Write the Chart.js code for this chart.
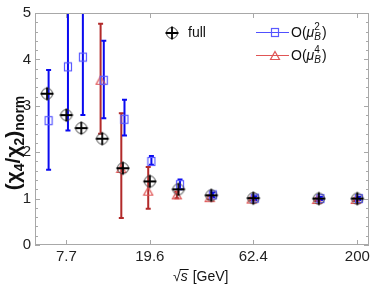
<!DOCTYPE html>
<html>
<head>
<meta charset="utf-8">
<script src="https://cdn.jsdelivr.net/npm/chart.js@4.4.0/dist/chart.umd.min.js"></script>
<style>
  html, body { margin: 0; padding: 0; background: #fff; }
  #wrap { width: 374px; height: 288px; }
</style>
</head>
<body>
<div id="wrap"><canvas id="grafica" width="374" height="288"></canvas></div>
<script>
// =================== Datos ===================

// Energías de colisión sqrt(s) en GeV
const energias = [6.2, 7.7, 9.1, 11.5, 14.5, 19.6, 27, 39, 62.4, 130, 200];

// Serie "full"
const full = [3.26, 2.80, 2.52, 2.29, 1.655, 1.37, 1.20, 1.07, 1.01, 1.00, 1.00];

// Serie O(muB^2) con sus barras de error (límite inferior / superior)
const muB2 = [2.68, 3.84, 4.05, 3.55, 2.71, 1.80, 1.30, 1.08, 1.01, 1.00, 1.00];
const muB2Lo = [1.62, 2.47, 2.80, 2.73, 2.36, 1.73, 1.20, 1.03, 0.97, 0.97, 0.97];
const muB2Hi = [3.77, 5.60, 5.60, 4.40, 3.13, 1.92, 1.41, 1.13, 1.05, 1.04, 1.04];

// Serie O(muB^4)
const muB4 = [null, null, null, 3.55, 1.65, 1.16, 1.08, 1.02, 0.99, 0.98, 0.98];
const muB4Lo = [null, null, null, 2.40, 0.58, 0.78, 1.01, 0.98, 0.96, 0.95, 0.95];
const muB4Hi = [null, null, null, 4.77, 2.84, 1.68, 1.15, 1.06, 1.02, 1.01, 1.01];

// Marcas de los ejes
const ticksX = [7.7, 19.6, 62.4, 200];
const ticksY = [0, 1, 2, 3, 4, 5];

// Pequeño desplazamiento horizontal de las series para que no se encimen
const DESPLAZ = 1.018;

const AZUL = "#0a0af0";
const ROJO = "#b22a2a";
const GRIS = "#a8a8a8";
const FUENTE = "'Liberation Sans', Arial, sans-serif";

// =================== Marcadores ===================

function marcadorFull() {
  const c = document.createElement("canvas");
  c.width = 16; c.height = 16;
  const g = c.getContext("2d");
  g.strokeStyle = "#444";
  g.lineWidth = 1;
  g.beginPath(); g.arc(8, 8, 5.5, 0, Math.PI * 2); g.stroke();
  g.strokeStyle = "#000";
  g.lineWidth = 1.8;
  g.beginPath();
  g.moveTo(1.5, 8); g.lineTo(14.5, 8);
  g.moveTo(8, 1.5); g.lineTo(8, 14.5);
  g.stroke();
  return c;
}

function marcadorCuadro() {
  const c = document.createElement("canvas");
  c.width = 10; c.height = 11;
  const g = c.getContext("2d");
  g.strokeStyle = "#5a5aff";
  g.lineWidth = 1.2;
  g.strokeRect(1.5, 1.5, 7, 8);
  return c;
}

function marcadorTriangulo() {
  const c = document.createElement("canvas");
  c.width = 12; c.height = 11;
  const g = c.getContext("2d");
  g.strokeStyle = "#e05555";
  g.lineWidth = 1.2;
  g.beginPath();
  g.moveTo(6, 1.5); g.lineTo(10.5, 9.5); g.lineTo(1.5, 9.5); g.closePath();
  g.stroke();
  return c;
}

const imgFull = marcadorFull();
const imgCuadro = marcadorCuadro();
const imgTri = marcadorTriangulo();

// =================== Plugin: marco, barras de error, títulos, leyenda ===================

function barras(chart, xs, lo, hi, color) {
  const ctx = chart.ctx;
  const sx = chart.scales.x, sy = chart.scales.y;
  ctx.save();
  ctx.strokeStyle = color;
  ctx.lineWidth = 2;
  xs.forEach((x, i) => {
    if (lo[i] == null) return;
    const px = sx.getPixelForValue(x);
    const y1 = sy.getPixelForValue(lo[i]);
    const y2 = sy.getPixelForValue(hi[i]);
    ctx.beginPath();
    ctx.moveTo(px, y1); ctx.lineTo(px, y2);
    ctx.moveTo(px - 2.5, y1); ctx.lineTo(px + 2.5, y1);
    ctx.moveTo(px - 2.5, y2); ctx.lineTo(px + 2.5, y2);
    ctx.stroke();
  });
  ctx.restore();
}

function textoPartes(ctx, partes, x, y) {
  // dibuja texto compuesto (subíndices / superíndices) de izquierda a derecha
  let cx = x;
  partes.forEach(p => {
    ctx.font = p.f;
    ctx.fillText(p.t, cx, y + (p.dy || 0));
    cx += ctx.measureText(p.t).width + (p.sp || 0);
  });
  return cx - x;
}

function anchoPartes(ctx, partes) {
  let w = 0;
  partes.forEach(p => { ctx.font = p.f; w += ctx.measureText(p.t).width + (p.sp || 0); });
  return w;
}

const pluginGrafica = {
  id: "pluginGrafica",
  beforeDatasetsDraw(chart) {
    const { ctx, chartArea: a } = chart;

    ctx.save();
    ctx.beginPath();
    ctx.rect(a.left, a.top, a.right - a.left, a.bottom - a.top);
    ctx.clip();
    barras(chart, energias.map(e => e / DESPLAZ), muB4Lo, muB4Hi, ROJO);
    barras(chart, energias.map(e => e * DESPLAZ), muB2Lo, muB2Hi, AZUL);
    ctx.restore();
  },
  afterDraw(chart) {
    const { ctx, chartArea: a } = chart;
    const sx = chart.scales.x, sy = chart.scales.y;

    // marco
    ctx.save();
    ctx.strokeStyle = GRIS;
    ctx.lineWidth = 1;
    ctx.strokeRect(a.left + 0.5, a.top + 0.5, a.right - a.left - 1, a.bottom - a.top - 1);

    // marcas del eje Y (hacia adentro), mayores y menores
    ctx.beginPath();
    for (let v = 0; v <= 5.001; v += 0.2) {
      const py = Math.round(sy.getPixelForValue(v)) + 0.5;
      const mayor = Math.abs(v - Math.round(v)) < 1e-6;
      const l = mayor ? 5 : 3;
      ctx.moveTo(a.left, py); ctx.lineTo(a.left + l, py);
      ctx.moveTo(a.right, py); ctx.lineTo(a.right - l, py);
    }
    // marcas del eje X
    ticksX.forEach(t => {
      const px = Math.round(sx.getPixelForValue(t)) + 0.5;
      ctx.moveTo(px, a.bottom); ctx.lineTo(px, a.bottom - 5);
      ctx.moveTo(px, a.top); ctx.lineTo(px, a.top + 5);
    });
    ctx.stroke();
    ctx.restore();

    // título del eje Y: (χ4/χ2)norm
    ctx.save();
    ctx.fillStyle = "#111";
    ctx.textBaseline = "alphabetic";
    const fb = "bold 21px " + FUENTE;
    const fs = "bold 14px " + FUENTE;
    const tituloY = [
      { t: "(χ", f: fb }, { t: "4", f: fs, dy: 4 },
      { t: "/χ", f: fb }, { t: "2", f: fs, dy: 4 },
      { t: ")", f: fb }, { t: "norm", f: fs, dy: 4 }
    ];
    const wY = anchoPartes(ctx, tituloY);
    ctx.translate(20, 143);
    ctx.rotate(-Math.PI / 2);
    textoPartes(ctx, tituloY, -wY / 2, 0);
    ctx.restore();

    // título del eje X: √s [GeV]
    ctx.save();
    ctx.fillStyle = "#111";
    ctx.textBaseline = "alphabetic";
    const f14 = "14px " + FUENTE;
    const yb = 281;
    ctx.font = f14;
    const x0 = 173;
    ctx.fillText("√", x0, yb);
    const wr = ctx.measureText("√").width;
    ctx.font = "italic 14px " + FUENTE;
    ctx.fillText("s", x0 + wr, yb);
    const ws = ctx.measureText("s").width;
    ctx.strokeStyle = "#111";
    ctx.lineWidth = 1;
    ctx.beginPath();
    ctx.moveTo(x0 + wr - 1, yb - 11.5); ctx.lineTo(x0 + wr + ws + 1, yb - 11.5);
    ctx.stroke();
    ctx.font = f14;
    ctx.fillText("[GeV]", x0 + wr + ws + 5, yb);
    ctx.restore();

    // leyenda
    ctx.save();
    ctx.fillStyle = "#111";
    ctx.textBaseline = "middle";
    ctx.drawImage(imgFull, 172 - 8, 33 - 8);
    ctx.font = f14;
    ctx.fillText("full", 188, 33);

    const filas = [
      { y: 32, color: "#5050ff", img: imgCuadro, exp: "2" },
      { y: 55, color: "#e05555", img: imgTri, exp: "4" }
    ];
    filas.forEach(r => {
      ctx.strokeStyle = r.color;
      ctx.lineWidth = 1;
      ctx.beginPath();
      ctx.moveTo(256, r.y + 0.5); ctx.lineTo(289, r.y + 0.5);
      ctx.stroke();
      ctx.drawImage(r.img, 275 - r.img.width / 2, r.y - r.img.height / 2 + 0.5);
      ctx.textBaseline = "alphabetic";
      const yb2 = r.y + 5;
      ctx.font = f14;
      ctx.fillText("O(", 291, yb2);
      let cx = 291 + ctx.measureText("O(").width;
      ctx.font = "italic 14px " + FUENTE;
      ctx.fillText("μ", cx, yb2);
      cx += ctx.measureText("μ").width;
      ctx.font = "10px " + FUENTE;
      ctx.fillText(r.exp, cx, yb2 - 7);
      ctx.font = "italic 10px " + FUENTE;
      ctx.fillText("B", cx, yb2 + 3);
      cx += ctx.measureText("B").width + 1;
      ctx.font = f14;
      ctx.fillText(")", cx, yb2);
      ctx.textBaseline = "middle";
    });
    ctx.restore();
  }
};

// =================== Gráfica ===================

const ctx = document.getElementById("grafica").getContext("2d");

const chart = new Chart(ctx, {
  type: "scatter",
  data: {
    datasets: [
      {
        label: "full",
        data: energias.map((e, i) => ({ x: e, y: full[i] })),
        pointStyle: imgFull,
        order: 0
      },
      {
        label: "O(μB2)",
        data: energias.map((e, i) => ({ x: e * DESPLAZ, y: muB2[i] })),
        pointStyle: imgCuadro,
        order: 1
      },
      {
        label: "O(μB4)",
        data: energias.map((e, i) => ({ x: e / DESPLAZ, y: muB4[i] })).filter(p => p.y != null),
        pointStyle: imgTri,
        order: 2
      }
    ]
  },
  options: {
    responsive: false,
    animation: false,
    devicePixelRatio: 1,
    layout: { padding: { top: 8, right: 1, left: 0, bottom: 0 } },
    plugins: {
      legend: { display: false },
      tooltip: { enabled: false }
    },
    scales: {
      x: {
        type: "logarithmic",
        min: 5.42,
        max: 228,
        grid: { display: false, drawTicks: false },
        border: { display: false },
        afterBuildTicks: (axis) => { axis.ticks = ticksX.map(v => ({ value: v })); },
        afterFit: (axis) => { axis.height = 43; },
        ticks: {
          autoSkip: false,
          maxRotation: 0,
          padding: 3,
          color: "#222",
          font: { family: FUENTE, size: 15 },
          callback: (v) => String(v)
        }
      },
      y: {
        min: 0,
        max: 5,
        grid: { display: false, drawTicks: false },
        border: { display: false },
        afterBuildTicks: (axis) => { axis.ticks = ticksY.map(v => ({ value: v })); },
        afterFit: (axis) => { axis.width = 35; },
        ticks: {
          padding: 4,
          color: "#222",
          font: { family: FUENTE, size: 15 }
        }
      }
    }
  },
  plugins: [pluginGrafica]
});
</script>
</body>
</html>
